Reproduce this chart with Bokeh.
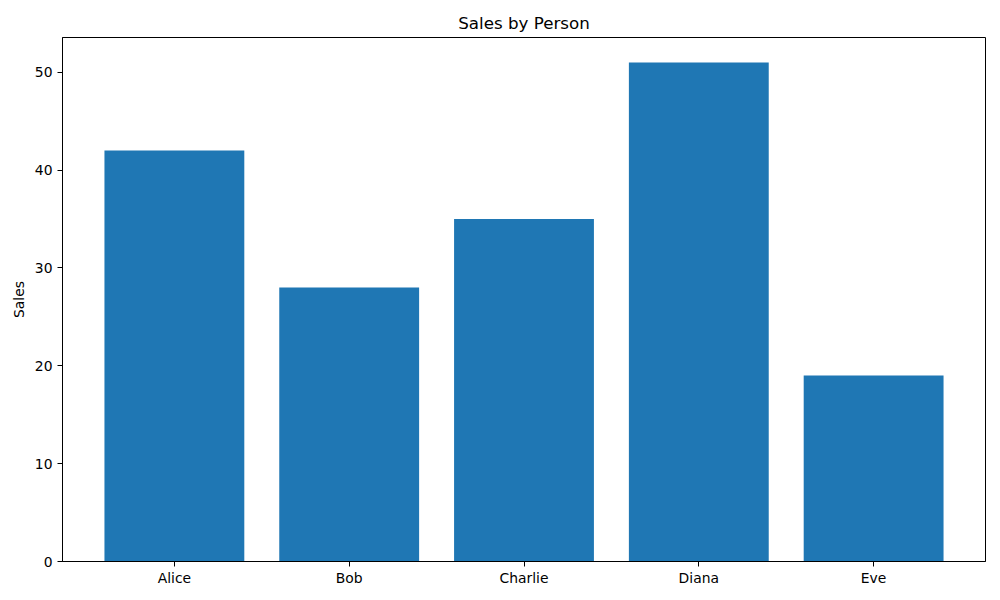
from bokeh.embed import file_html
from bokeh.models import FixedTicker, Range1d
from bokeh.plotting import figure
from bokeh.resources import INLINE

people = ["Alice", "Bob", "Charlie", "Diana", "Eve"]
sales = [42, 28, 35, 51, 19]
positions = list(range(len(people)))
y_ticks = [0, 10, 20, 30, 40, 50]

font = "DejaVu Sans"

p = figure(
    output_backend="svg", toolbar_location=None,
    frame_width=923, frame_height=524,
    min_border_left=62, min_border_top=37, min_border_right=7, min_border_bottom=31,
    x_range=Range1d(-0.64, 4.64), y_range=Range1d(0, 53.55),
    title="Sales by Person",
)
p.vbar(x=positions, top=sales, width=0.8, fill_color="#1f77b4", line_color=None)

p.title.align = "center"
p.title.text_font = font
p.title.text_font_size = "16.7px"
p.title.text_font_style = "normal"
p.title.text_color = "black"

p.xgrid.visible = False
p.ygrid.visible = False
p.outline_line_color = "black"
p.outline_line_alpha = 1

p.xaxis.ticker = FixedTicker(ticks=positions)
p.xaxis.major_label_overrides = {i: name for i, name in enumerate(people)}
p.xaxis.major_label_standoff = 3
p.yaxis.ticker = FixedTicker(ticks=y_ticks)
p.yaxis.axis_label = "Sales"

for ax in p.axis:
    ax.axis_line_color = "black"
    ax.major_tick_line_color = "black"
    ax.major_tick_in = 0
    ax.major_tick_out = 5
    ax.minor_tick_line_color = None
    ax.major_label_text_font = font
    ax.major_label_text_font_size = "13.9px"
    ax.major_label_text_color = "black"
    ax.axis_label_text_font = font
    ax.axis_label_text_font_size = "13.9px"
    ax.axis_label_text_font_style = "normal"
    ax.axis_label_text_color = "black"

open("out.html", "w").write(file_html(p, INLINE))
